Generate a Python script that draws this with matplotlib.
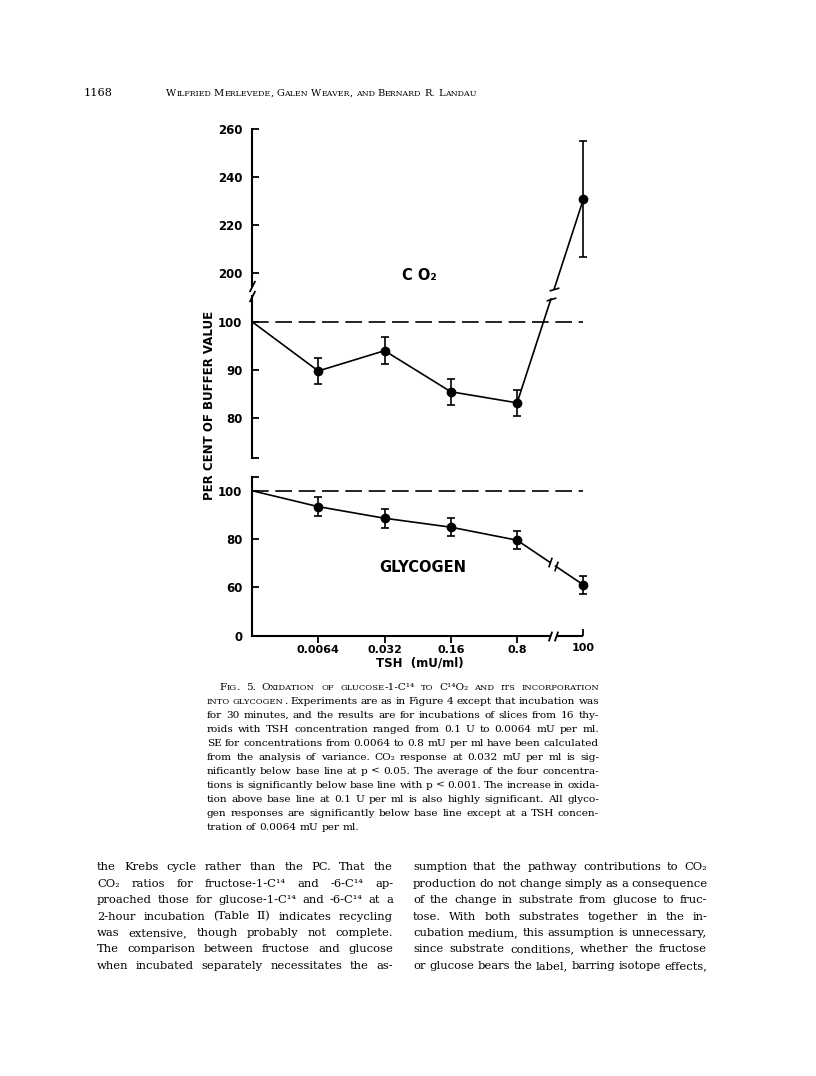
import numpy as np
import matplotlib.pyplot as plt
from matplotlib.lines import Line2D

# values, per cent of buffer value
tsh_labels = ["0.0064", "0.032", "0.16", "0.8", "100"]
x_pos = np.arange(6)                       # 0 = buffer (base line)
co2_mean = np.array([100, 89.8, 94.0, 85.5, 83.2, 230.8])
co2_se = np.array([0, 2.7, 2.75, 2.7, 2.75, 24.3])
gly_mean = np.array([100, 93.4, 88.6, 84.9, 79.5, 61.0])
gly_se = np.array([0, 3.9, 4.0, 3.85, 3.8, 3.8])

header_num = "1168"
header_authors = "Wilfried Merlevede, Galen Weaver, and Bernard R. Landau"

caption = [
    "Fig. 5. Oxidation of glucose-1-C¹⁴ to C¹⁴O₂ and its incorporation",
    "into glycogen. Experiments are as in Figure 4 except that incubation was",
    "for 30 minutes, and the results are for incubations of slices from 16 thy-",
    "roids with TSH concentration ranged from 0.1 U to 0.0064 mU per ml.",
    "SE for concentrations from 0.0064 to 0.8 mU per ml have been calculated",
    "from the analysis of variance. CO₂ response at 0.032 mU per ml is sig-",
    "nificantly below base line at p < 0.05. The average of the four concentra-",
    "tions is significantly below base line with p < 0.001. The increase in oxida-",
    "tion above base line at 0.1 U per ml is also highly significant. All glyco-",
    "gen responses are significantly below base line except at a TSH concen-",
    "tration of 0.0064 mU per ml.",
]
body_left = [
    "the Krebs cycle rather than the PC. That the",
    "CO₂ ratios for fructose-1-C¹⁴ and -6-C¹⁴ ap-",
    "proached those for glucose-1-C¹⁴ and -6-C¹⁴ at a",
    "2-hour incubation (Table II) indicates recycling",
    "was extensive, though probably not complete.",
    "The comparison between fructose and glucose",
    "when incubated separately necessitates the as-",
]
body_right = [
    "sumption that the pathway contributions to CO₂",
    "production do not change simply as a consequence",
    "of the change in substrate from glucose to fruc-",
    "tose. With both substrates together in the in-",
    "cubation medium, this assumption is unnecessary,",
    "since substrate conditions, whether the fructose",
    "or glucose bears the label, barring isotope effects,",
]

plt.rcParams["font.family"] = "DejaVu Sans"
plt.rcParams["font.weight"] = "bold"

W, H = 816, 1076
fig = plt.figure(figsize=(W / 100, H / 100), dpi=100)
renderer = fig.canvas.get_renderer()
SERIF = ["DejaVu Serif"]


def add_ax(top, bottom, ylim):
    left, right = 252, 590
    ax = fig.add_axes([left / W, 1 - bottom / H, (right - left) / W, (bottom - top) / H])
    ax.set_facecolor("none")
    ax.spines[["top", "right"]].set_visible(False)
    ax.spines["left"].set_linewidth(1.5)
    ax.spines["bottom"].set_linewidth(1.5)
    ax.set_xlim(0, 5.1)
    ax.set_ylim(*ylim)
    ax.tick_params(axis="y", which="both", direction="in", length=5, width=1.3,
                   pad=7, labelsize=8.5)
    return ax


ax_hi = add_ax(124.5, 289.8, (193, 262))
ax_lo = add_ax(287.9, 466.6, (70, 107))
ax_gl = add_ax(473.8, 635.6, (40, 107))

for ax in (ax_hi, ax_lo):
    ax.spines["bottom"].set_visible(False)
    ax.set_xticks([])

ax_hi.spines["left"].set_bounds(194.5, 260)
ax_hi.set_yticks([200, 220, 240, 260])
ax_lo.spines["left"].set_bounds(71.7, 105.3)
ax_lo.set_yticks([80, 90, 100])
ax_lo.set_yticks([71.7], minor=True)
ax_gl.spines["left"].set_bounds(40, 105.8)
ax_gl.set_yticks([40, 60, 80, 100], ["0", "60", "80", "100"])
ax_gl.set_yticks([105.8], minor=True)

# x axis with break before the 100 mU/ml point
ax_gl.spines["bottom"].set_bounds(0, 4.49)
ax_gl.plot([4.58, 5], [40, 40], color="k", lw=1.5, clip_on=False, solid_capstyle="butt")
ax_gl.set_xticks(x_pos[1:5], tsh_labels[:4])
ax_gl.set_xticks([5], [tsh_labels[4]], minor=True)
ax_gl.tick_params(axis="x", which="major", direction="out", length=5, width=1.3,
                  pad=1.5, labelsize=8)
ax_gl.tick_params(axis="x", which="minor", direction="in", length=5, width=1.3,
                  pad=5, labelsize=8)

slash = [(-0.35, -1), (0.35, 1)]
ax_gl.plot([4.49, 4.58], [40, 40], ls="none", marker=slash, ms=7, mew=1.3,
           color="k", clip_on=False)
# y axis break between the two CO2 panels
ax_hi.plot([0], [194.5], marker=[(-0.5, -1), (0.5, 1)], ms=8, mew=1.3, color="k", clip_on=False)
ax_lo.plot([0], [105.3], marker=[(-0.5, -1), (0.5, 1)], ms=8, mew=1.3, color="k", clip_on=False)

# base lines
ax_lo.plot([0, 5], [100, 100], color="k", lw=1.2, ls=(0, (10, 4)), clip_on=False)
ax_gl.plot([0, 5], [100, 100], color="k", lw=1.2, ls=(0, (10, 4)), clip_on=False)

ebkw = dict(fmt="o", ms=6, color="k", capsize=3, elinewidth=1.2, capthick=1.2, clip_on=False)

# CO2
ax_lo.plot(x_pos[:5], co2_mean[:5], color="k", lw=1.2, clip_on=False)
ax_lo.errorbar(x_pos[1:5], co2_mean[1:5], yerr=co2_se[1:5], **ebkw)
ax_hi.errorbar(x_pos[5:], co2_mean[5:], yerr=co2_se[5:], **ebkw)
p0 = ax_lo.transData.transform((x_pos[4], co2_mean[4]))
p1 = ax_hi.transData.transform((x_pos[5], co2_mean[5]))
inv = fig.transFigure.inverted()
pa = inv.transform(p0 + 0.51 * (p1 - p0))
pb = inv.transform(p0 + 0.56 * (p1 - p0))
f0, f1 = inv.transform(p0), inv.transform(p1)
fig.add_artist(Line2D([f0[0], pa[0]], [f0[1], pa[1]], color="k", lw=1.2, transform=fig.transFigure))
fig.add_artist(Line2D([pb[0], f1[0]], [pb[1], f1[1]], color="k", lw=1.2, transform=fig.transFigure))
fig.add_artist(Line2D([pa[0], pb[0]], [pa[1], pb[1]], ls="none", marker=[(-1, -0.3), (1, 0.3)],
                      ms=7, mew=1.2, color="k", transform=fig.transFigure))
ax_hi.text(2.52, 199, "C O₂", fontsize=10.5, ha="center", va="center")

# glycogen
ax_gl.plot(x_pos[:5], gly_mean[:5], color="k", lw=1.2, clip_on=False)
xb = np.array([4.49, 4.58])
yb = np.interp(xb, x_pos[4:], gly_mean[4:])
ax_gl.plot([x_pos[4], xb[0]], [gly_mean[4], yb[0]], color="k", lw=1.2)
ax_gl.plot([xb[1], x_pos[5]], [yb[1], gly_mean[5]], color="k", lw=1.2, clip_on=False)
ax_gl.plot(xb, yb, ls="none", marker=slash, ms=7, mew=1.2, color="k")
ax_gl.errorbar(x_pos[1:], gly_mean[1:], yerr=gly_se[1:], **ebkw)
ax_gl.text(2.57, 68, "GLYCOGEN", fontsize=10.5, ha="center", va="center")

fig.text(210 / W, 1 - 405 / H, "PER CENT OF BUFFER VALUE", rotation=90,
         ha="center", va="center", fontsize=8.5)
fig.text(420 / W, 1 - 663 / H, "TSH  (mU/ml)", ha="center", va="center", fontsize=8.5)


# serif page text, set word by word so lines can be justified
def caps_runs(word, size):
    runs = []
    for ch in word:
        piece = (ch.upper(), size * 0.8) if ch.islower() else (ch, size)
        if runs and runs[-1][1] == piece[1]:
            runs[-1] = (runs[-1][0] + piece[0], piece[1])
        else:
            runs.append(piece)
    return runs


def make_words(text, y, size, caps_words=0):
    groups = []
    for i, w in enumerate(text.split()):
        runs = caps_runs(w, size) if i < caps_words else [(w, size)]
        arts = [fig.text(0, 1 - y / H, s, fontsize=sz, family=SERIF, weight="normal",
                         va="baseline", ha="left") for s, sz in runs]
        groups.append([(a, a.get_window_extent(renderer).width) for a in arts])
    return groups


def fit_size(lines, spans, caps, base=8.0):
    # largest size at which every justified line still fits with normal spaces
    ratios = []
    for line, (x0, x1), c in zip(lines, spans, caps):
        groups = make_words(line, 0, base, c)
        used = sum(wd for g in groups for _, wd in g)
        ratios.append((x1 - x0) / (used + (len(groups) - 1) * 0.27 * base * 100 / 72))
        for g in groups:
            for a, _ in g:
                a.remove()
    return base * min(ratios)


def set_line(text, x0, x1, y, size, justify=True, caps_words=0):
    groups = make_words(text, y, size, caps_words)
    used = sum(wd for g in groups for _, wd in g)
    if justify and len(groups) > 1:
        gap = (x1 - x0 - used) / (len(groups) - 1)
    else:
        gap = size * 100 / 72 * 0.3
    x = x0
    for g in groups:
        for a, wd in g:
            a.set_x(x / W)
            x += wd
        x += gap


fig.text(84 / W, 1 - 96 / H, header_num, fontsize=8.2, family=SERIF, weight="normal", va="baseline")
set_line(header_authors, 166, 475, 96, 7.1, justify=False, caps_words=20)

cap_spans = [(219, 599)] + [(206.7, 599)] * (len(caption) - 1)
cap_caps = [20, 2] + [0] * (len(caption) - 2)
cap_size = fit_size(caption[:-1], cap_spans[:-1], cap_caps[:-1])
for i, line in enumerate(caption):
    set_line(line, *cap_spans[i], 689.7 + 14 * i, cap_size,
             justify=i < len(caption) - 1, caps_words=cap_caps[i])

body_size = min(fit_size(body_left, [(97, 393)] * 7, [0] * 7),
                fit_size(body_right, [(413, 707)] * 7, [0] * 7))
for i, line in enumerate(body_left):
    set_line(line, 97, 393, 870.5 + 16.4 * i, body_size)
for i, line in enumerate(body_right):
    set_line(line, 413, 707, 870.5 + 16.4 * i, body_size)

fig.savefig("out.png", dpi=100)
